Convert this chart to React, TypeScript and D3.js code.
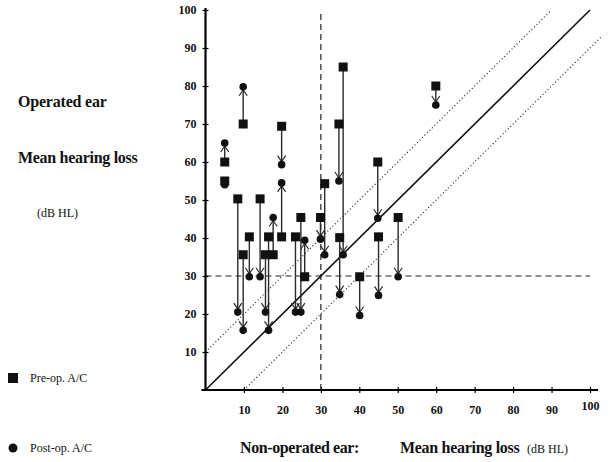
import React, { useEffect, useRef } from 'react';
import * as d3 from 'd3';

// non-operated ear mean hearing loss (dB HL)
const earX = [5, 5, 8.4, 9.8, 9.8, 11.4, 14.2, 15.6, 16.4, 17.6, 19.8, 19.8, 23.4, 24.8, 25.8, 29.9, 31, 34.7, 34.9, 35.8, 40.1, 44.8, 45, 50.1, 59.9];
// operated ear, pre-op and post-op A/C
const preOp = [60, 55, 50.3, 70, 35.6, 40.3, 50.3, 35.6, 40.3, 35.6, 69.4, 40.3, 40.3, 45.4, 29.8, 45.4, 54.3, 70, 40.1, 85, 29.8, 60, 40.3, 45.4, 80];
const postOp = [65, 54, 20.5, 79.8, 15.7, 29.8, 29.8, 20.5, 15.7, 45.4, 59.3, 54.5, 20.5, 20.5, 39.4, 39.7, 35.6, 55, 25.1, 35.6, 19.6, 45.2, 24.9, 29.8, 75];
const tickVals = [10, 20, 30, 40, 50, 60, 70, 80, 90, 100];

const font = '"Liberation Serif", "Times New Roman", Times, serif';

const Chart = () => {
    const ref = useRef<SVGSVGElement>(null);

    useEffect(() => {
        const svg = d3.select(ref.current);
        svg.selectAll('*').remove();

        const x = d3.scaleLinear().domain([0, 100]).range([205.5, 590]);
        const y = d3.scaleLinear().domain([0, 100]).range([390, 10]);

        // reference lines
        const g = svg.append('g');
        g.append('line')
            .attr('x1', x(0)).attr('y1', y(30)).attr('x2', x(100)).attr('y2', y(30))
            .attr('stroke', '#222').attr('stroke-width', 1.2).attr('stroke-dasharray', '6,4');
        g.append('line')
            .attr('x1', x(30)).attr('y1', y(0)).attr('x2', x(30)).attr('y2', y(100))
            .attr('stroke', '#222').attr('stroke-width', 1.2).attr('stroke-dasharray', '6,4');
        g.append('line')
            .attr('x1', x(0)).attr('y1', y(0)).attr('x2', x(100)).attr('y2', y(100))
            .attr('stroke', '#111').attr('stroke-width', 1.6);
        g.append('line')
            .attr('x1', x(0)).attr('y1', y(10)).attr('x2', x(90)).attr('y2', y(100))
            .attr('stroke', '#222').attr('stroke-width', 1.2).attr('stroke-dasharray', '1,2.5');
        g.append('line')
            .attr('x1', x(10)).attr('y1', y(0)).attr('x2', x(103)).attr('y2', y(93))
            .attr('stroke', '#222').attr('stroke-width', 1.2).attr('stroke-dasharray', '1,2.5');

        // axes
        const yAxis = svg.append('g')
            .attr('transform', `translate(${x(0)},0)`)
            .call(d3.axisLeft(y).tickValues(tickVals).tickSize(3).tickFormat(d3.format('d')));
        yAxis.select('.domain').attr('d', `M0,${y(0)}V${y(100) - 2}`).attr('stroke-width', 2.2);
        yAxis.selectAll('.tick line').attr('x1', 3).attr('x2', -3).attr('stroke-width', 1.2);
        yAxis.selectAll('.tick text').attr('x', -9);

        const xAxis = svg.append('g')
            .attr('transform', `translate(0,${y(0)})`)
            .call(d3.axisBottom(x).tickValues(tickVals).tickSize(3).tickFormat(d3.format('d')));
        xAxis.select('.domain').attr('d', `M${x(0) - 4},0H${x(100) + 8}`).attr('stroke-width', 2.2);
        xAxis.selectAll('.tick line').attr('y1', -3).attr('y2', 3).attr('stroke-width', 1.2);
        xAxis.selectAll('.tick text').attr('y', (d: any) => (d === 100 ? 11 : 15));
        svg.selectAll('.tick text')
            .attr('fill', '#111')
            .attr('font-family', font)
            .attr('font-weight', 'bold')
            .attr('font-size', 12);

        // pre -> post arrows
        const pairs = earX.map((v, i) => ({ x: v, pre: preOp[i], post: postOp[i] }));
        const arrows = svg.append('g').attr('stroke', '#2a2a2a').attr('fill', 'none');
        pairs.forEach((p) => {
            if (Math.abs(p.pre - p.post) < 2) return;
            const px = x(p.x);
            const dir = p.post < p.pre ? 1 : -1; // +1 = going down in pixels
            const tipY = y(p.post) - dir * 3;
            arrows.append('line')
                .attr('x1', px).attr('y1', y(p.pre)).attr('x2', px).attr('y2', y(p.post))
                .attr('stroke-width', 1.4);
            arrows.append('path')
                .attr('d', `M${px - 4},${tipY - dir * 6}L${px},${tipY}L${px + 4},${tipY - dir * 6}`)
                .attr('stroke-width', 1.2);
        });

        svg.append('g').selectAll('circle')
            .data(pairs)
            .join('circle')
            .attr('cx', (d) => x(d.x))
            .attr('cy', (d) => y(d.post))
            .attr('r', 3.8)
            .attr('fill', '#111');

        svg.append('g').selectAll('rect')
            .data(pairs)
            .join('rect')
            .attr('x', (d) => x(d.x) - 4.5)
            .attr('y', (d) => y(d.pre) - 4.5)
            .attr('width', 9)
            .attr('height', 9)
            .attr('fill', '#111');
    }, []);

    return <svg ref={ref} width={610} height={462} style={{ display: 'block' }}></svg>;
};

const Labels = () => {
    const bold = { fontFamily: font, fontWeight: 'bold' as const, fill: '#111' };
    const plain = { fontFamily: font, fontWeight: 'normal' as const, fill: '#111' };
    return (
        <svg width={610} height={462} style={{ position: 'absolute', left: 0, top: 0 }}>
            <text x={18} y={107} fontSize={16} letterSpacing={-0.2} style={bold}>Operated ear</text>
            <text x={18} y={163} fontSize={16} letterSpacing={-0.3} style={bold}>Mean hearing loss</text>
            <text x={37} y={217} fontSize={12} style={plain}>(dB HL)</text>
            <rect x={8} y={373} width={10} height={10} fill="#111" />
            <text x={30} y={382} fontSize={12} style={plain}>Pre-op. A/C</text>
            <circle cx={13} cy={448} r={4.5} fill="#111" />
            <text x={30} y={452} fontSize={12} style={plain}>Post-op. A/C</text>
            <text x={240} y={453} fontSize={16} letterSpacing={-0.4} style={bold}>Non-operated ear:</text>
            <text x={400} y={453} fontSize={16} letterSpacing={-0.3} style={bold}>Mean hearing loss</text>
            <text x={527} y={453} fontSize={12} style={plain}>(dB HL)</text>
        </svg>
    );
};

export default function App() {
    return (
        <div style={{ position: 'fixed', left: 0, top: 0, width: 610, height: 462, background: '#fff' }}>
            <Chart />
            <Labels />
        </div>
    );
}
